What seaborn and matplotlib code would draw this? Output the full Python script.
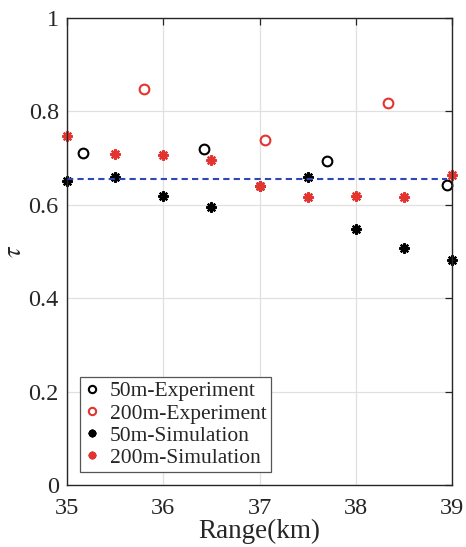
import numpy as np
import pandas as pd
import matplotlib
matplotlib.use("Agg")
import matplotlib.pyplot as plt
import seaborn as sns

# datos
rango_50_exp = [35.16, 36.42, 37.70, 38.95]
tau_50_exp = [0.712, 0.720, 0.694, 0.642]

rango_200_exp = [35.80, 37.06, 38.33]
tau_200_exp = [0.849, 0.738, 0.819]

rango_sim = [35.0, 35.5, 36.0, 36.5, 37.0, 37.5, 38.0, 38.5, 39.0]
tau_50_sim = [0.652, 0.660, 0.619, 0.595, 0.641, 0.660, 0.548, 0.508, 0.482]
tau_200_sim = [0.747, 0.709, 0.707, 0.696, 0.641, 0.617, 0.619, 0.617, 0.665]

tau_medio = 0.655

sns.set_style("whitegrid")
plt.rcParams['font.family'] = ['Liberation Serif', 'DejaVu Serif']
plt.rcParams['mathtext.fontset'] = 'stix'

rojo = '#e3342f'
azul = '#2f48b5'

fig = plt.figure(figsize=(4.66, 5.47), dpi=100)
ax = fig.add_axes([0.144, 0.113, 0.826, 0.854])

sns.lineplot(x=rango_50_exp, y=tau_50_exp, ax=ax, linestyle='', marker='o',
             markersize=7, markerfacecolor='none', markeredgecolor='black',
             markeredgewidth=1.5, color='black', label='50m-Experiment',
             sort=False, clip_on=False)
sns.lineplot(x=rango_200_exp, y=tau_200_exp, ax=ax, linestyle='', marker='o',
             markersize=7, markerfacecolor='none', markeredgecolor=rojo,
             markeredgewidth=1.5, color=rojo, label='200m-Experiment',
             sort=False, clip_on=False)
sns.lineplot(x=rango_sim, y=tau_50_sim, ax=ax, linestyle='', marker=(8, 2, 0),
             markersize=7.5, markeredgecolor='black', markeredgewidth=1.6,
             color='black', label='50m-Simulation', sort=False, clip_on=False)
sns.lineplot(x=rango_sim, y=tau_200_sim, ax=ax, linestyle='', marker=(8, 2, 0),
             markersize=7.5, markeredgecolor=rojo, markeredgewidth=1.6,
             color=rojo, label='200m-Simulation', sort=False, clip_on=False)

ax.hlines(tau_medio, 35, 38.95, colors=azul, linestyles=(0, (3, 2)), linewidth=1.5)

ax.set_xlim(35, 39)
ax.set_ylim(0, 1)
ax.set_xticks([35, 36, 37, 38, 39])
ax.set_yticks([0, 0.2, 0.4, 0.6, 0.8, 1])
ax.set_yticklabels(['0', '0.2', '0.4', '0.6', '0.8', '1'])
ax.grid(True, color='#e0e0e0', linewidth=0.9)
for s in ax.spines.values():
    s.set_visible(True)
    s.set_color('#262626')
    s.set_linewidth(1.0)
ax.tick_params(direction='in', length=5, width=0.9, top=True, right=True,
               labelsize=17.5, colors='#262626')
ax.tick_params(axis='x', pad=9)
ax.tick_params(axis='y', pad=6)
ax.set_xlabel('Range(km)', fontsize=19.5, labelpad=0)
ax.set_ylabel(r'$\tau$', fontsize=19, labelpad=2)

leg = ax.legend(loc='lower left', fontsize=15.5, frameon=True, fancybox=False,
                edgecolor='#555555', framealpha=1, handlelength=0.7,
                handletextpad=0.5, borderpad=0.2, labelspacing=0.1,
                borderaxespad=0.6, markerscale=0.75)
leg.get_frame().set_linewidth(0.9)

plt.savefig('out.png', dpi=100)
plt.close()
